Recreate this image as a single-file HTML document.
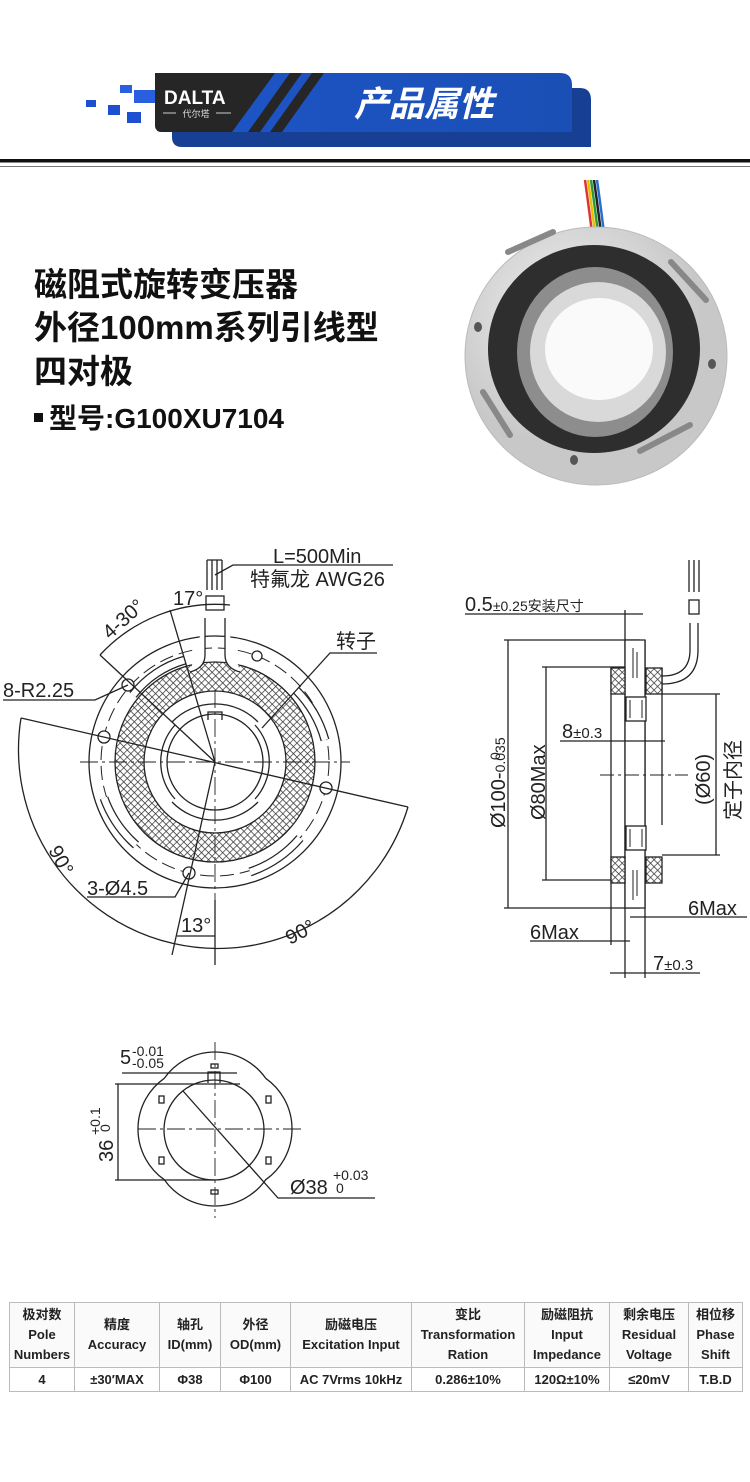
<!DOCTYPE html>
<html><head><meta charset="utf-8"><style>
body{margin:0;background:#fff;}
.w{position:relative;width:750px;height:1482px;overflow:hidden;background:#fff;font-family:"Liberation Sans","Noto Sans CJK SC",sans-serif;}
.t{position:absolute;left:34px;font-weight:bold;font-size:33px;color:#111;line-height:1;}
table{position:absolute;left:9px;top:1302px;border-collapse:collapse;font-family:"Liberation Sans","Noto Sans CJK SC",sans-serif;font-weight:bold;font-size:13px;color:#222;}
td{border:1px solid #bbb;text-align:center;padding:0;line-height:20px;}
tr.h td{height:64px;background:#fafafa;}
tr.d td{height:23px;}
</style></head><body><div class="w">
<svg width="750" height="200" style="position:absolute;left:0;top:0">
<defs><linearGradient id="bg" x1="0" x2="1"><stop offset="0" stop-color="#1e55c8"/><stop offset="1" stop-color="#1a4fb5"/></linearGradient></defs>
<rect x="86" y="100" width="10" height="7" fill="#1d4fd0"/>
<rect x="108" y="105" width="12" height="10" fill="#1d4fd0"/>
<rect x="120" y="85" width="12" height="8" fill="#2a5fe0"/>
<rect x="134" y="90" width="21" height="13" fill="#2a5fe0"/>
<rect x="127" y="112" width="14" height="11" fill="#1d4fd0"/>
<path d="M172 88 H580 Q591 88 591 100 V147 H182 Q172 147 172 137Z" fill="#173f93"/>
<path d="M155 73 H560 Q572 73 572 85 V132 H162 Q155 132 155 125Z" fill="url(#bg)"/>
<path d="M155 73 H275 L232 132 H162 Q155 132 155 125Z" fill="#262626"/>
<path d="M290 73 H302 L260 132 H248Z" fill="#262626"/>
<path d="M312 73 H324 L282 132 H270Z" fill="#262626"/>
<text x="164" y="104" font-family="Liberation Sans" font-weight="bold" font-size="19" fill="#fff">DALTA</text>
<line x1="163" y1="113" x2="176" y2="113" stroke="#ccc"/><line x1="216" y1="113" x2="231" y2="113" stroke="#ccc"/>
<text x="196" y="117" text-anchor="middle" font-size="9" fill="#ddd" font-family="Noto Sans CJK SC,sans-serif">代尔塔</text>
<text x="424" y="116" text-anchor="middle" font-size="35" font-weight="bold" font-style="italic" fill="#fff" font-family="Noto Sans CJK SC,sans-serif">产品属性</text>
<rect x="0" y="159" width="750" height="3.5" fill="#111"/>
<rect x="0" y="166" width="750" height="1" fill="#777"/>
</svg>
<div class="t" style="top:268px">磁阻式旋转变压器</div>
<div class="t" style="top:311px">外径100mm系列引线型</div>
<div class="t" style="top:355px">四对极</div>
<div class="t" style="top:405px;font-size:28px"><span style="display:inline-block;width:9px;height:9px;background:#111;vertical-align:middle;margin-right:6px;position:relative;top:-3px"></span>型号:G100XU7104</div>

<svg width="750" height="1482" style="position:absolute;left:0;top:0" font-family="Liberation Sans,Noto Sans CJK SC,sans-serif">
<defs>
<pattern id="hx" width="5" height="5" patternUnits="userSpaceOnUse" patternTransform="rotate(45)"><rect width="5" height="5" fill="#fff"/><path d="M0 0H5M0 0V5" stroke="#333" stroke-width="1.4"/></pattern>
<radialGradient id="pl" cx="0.4" cy="0.35"><stop offset="0" stop-color="#f2f2f2"/><stop offset="1" stop-color="#c8c8c8"/></radialGradient>
</defs>
<!-- photo -->
<g>
<path d="M585 180 Q590 215 595 258" stroke="#d33" stroke-width="2.5" fill="none"/>
<path d="M588 180 Q593 215 598 258" stroke="#e8c000" stroke-width="2.5" fill="none"/>
<path d="M591 180 Q596 215 601 258" stroke="#2a9a3a" stroke-width="2.5" fill="none"/>
<path d="M594 180 Q599 215 604 258" stroke="#222" stroke-width="2.5" fill="none"/>
<path d="M597 180 Q602 215 607 258" stroke="#2870d0" stroke-width="2.5" fill="none"/>
<ellipse cx="596" cy="356" rx="131" ry="129" fill="url(#pl)" stroke="#bbb"/>
<ellipse cx="594" cy="349" rx="106" ry="104" fill="#2e2e2e"/>
<ellipse cx="595" cy="352" rx="78" ry="85" fill="#8d8d8d"/>
<ellipse cx="598" cy="352" rx="68" ry="70" fill="#d9d9d9"/>
<ellipse cx="599" cy="349" rx="54" ry="51" fill="#fafafa"/>
<ellipse cx="478" cy="327" rx="4" ry="5" fill="#555"/><ellipse cx="712" cy="364" rx="4" ry="5" fill="#555"/><ellipse cx="574" cy="460" rx="4" ry="5" fill="#555"/>
<path d="M508 252 L553 232" stroke="#888" stroke-width="6" stroke-linecap="round"/>
<path d="M671 262 L706 300" stroke="#888" stroke-width="6" stroke-linecap="round"/>
<path d="M483 392 L510 435" stroke="#888" stroke-width="6" stroke-linecap="round"/>
<path d="M640 451 L690 425" stroke="#888" stroke-width="6" stroke-linecap="round"/>
</g>
<!-- front view -->
<g stroke="#222" fill="none" stroke-width="1.3">
<circle cx="215" cy="762" r="126"/>
<circle cx="215" cy="762" r="114" stroke-dasharray="14 6" stroke-width="1"/>
<path d="M215 762 m-100 0 a100 100 0 1 0 200 0 a100 100 0 1 0 -200 0 M215 762 m-71 0 a71 71 0 1 1 142 0 a71 71 0 1 1 -142 0" fill="url(#hx)" fill-rule="evenodd"/>
<circle cx="215" cy="762" r="48"/>
<path d="M172 722 A60 60 0 0 1 258 722 M172 802 A60 60 0 0 0 258 802 M175 725 A55 55 0 0 0 175 799 M255 725 A55 55 0 0 1 255 799"/>
<path d="M208 720 v-8 h14 v8"/>
<path d="M133 695 A100 100 0 0 1 185 660" stroke-width="9" stroke="#222"/><path d="M133 695 A100 100 0 0 1 185 660" stroke-width="6.5" stroke="#fff"/>
<path d="M296 690 A115 115 0 0 1 325 740" stroke-width="9"/><path d="M296 690 A115 115 0 0 1 325 740" stroke-width="6.5" stroke="#fff"/>
<path d="M104 798 A115 115 0 0 0 136 845" stroke-width="9"/><path d="M104 798 A115 115 0 0 0 136 845" stroke-width="6.5" stroke="#fff"/>
<path d="M250 872 A115 115 0 0 0 300 838" stroke-width="9"/><path d="M250 872 A115 115 0 0 0 300 838" stroke-width="6.5" stroke="#fff"/>
<circle cx="128" cy="685" r="6" fill="#fff"/><circle cx="104" cy="737" r="6" fill="#fff"/><circle cx="326" cy="788" r="6" fill="#fff"/><circle cx="189" cy="873" r="6" fill="#fff"/><circle cx="257" cy="656" r="5" fill="#fff"/>
<path d="M205 618 V655 Q205 668 190 672 M225 618 V655 Q225 668 240 672" fill="#fff"/>
<rect x="206" y="596" width="18" height="14" fill="#fff"/>
<path d="M207 560 v30 M212 560 v30 M217 560 v30 M222 560 v30 M207 560 h15"/>
<path d="M80 762 H350 M215 690 V960" stroke-dasharray="18 4 3 4" stroke-width="0.9"/>
<path d="M21 718 L408 807 M215 762 L172 955 M215 762 L170 610 M215 762 L100 655"/>
<path d="M21 718 A199 199 0 0 0 408 807"/>
<path d="M100 655 A157 157 0 0 1 230 605"/>
<path d="M177 936 H215 M215 900 V965"/>
<path d="M3 700 H95 L128 685"/>
<path d="M87 897 H175 L189 873"/>
<path d="M377 653 H330 L262 728"/>
<path d="M215 575 L233 565 H393"/>
</g>
<g font-size="20" fill="#222">
<text x="273" y="563">L=500Min</text>
<text x="250" y="586">特氟龙 AWG26</text>
<text x="173" y="605">17°</text>
<text x="3" y="697">8-R2.25</text>
<text x="336" y="648">转子</text>
<text x="87" y="895">3-Ø4.5</text>
<text x="181" y="932">13°</text>
<text transform="translate(110,640) rotate(-42)">4-30°</text>
<text transform="translate(48,850) rotate(62)">90°</text>
<text transform="translate(290,945) rotate(-28)">90°</text>
</g>
<!-- side view -->
<g stroke="#222" fill="none" stroke-width="1.3">
<path d="M465 614 H643 M625 610 V978 M645 640 V978 M611 668 V945 M662 668 V825"/>
<path d="M508 640 V908 M504 640 H640 M504 908 H640 M546 667 V880 M542 667 H625 M542 880 H625"/>
<path d="M625 640 H645 V908 H625Z" fill="#fff"/>
<rect x="611" y="668" width="14" height="26" fill="url(#hx)"/><rect x="646" y="668" width="16" height="26" fill="url(#hx)"/>
<rect x="611" y="857" width="14" height="26" fill="url(#hx)"/><rect x="646" y="857" width="16" height="26" fill="url(#hx)"/>
<rect x="626" y="697" width="20" height="24" fill="#fff"/><rect x="626" y="826" width="20" height="24" fill="#fff"/>
<path d="M630 700 v18 M642 700 v18 M630 829 v18 M642 829 v18 M633 648 v30 M637 652 v26 M633 870 v30 M637 870 v26" stroke-width="1"/>
<path d="M662 694 H720 M662 855 H720 M716 694 V855"/>
<path d="M560 741 H665 M630 917 H747 M530 941 H630 M610 973 H700"/>
<path d="M600 775 H688" stroke-dasharray="14 4 3 4" stroke-width="0.9"/>
<path d="M662 676 Q690 676 690 650 V623 M662 684 Q698 684 698 650 V623"/>
<rect x="689" y="600" width="10" height="14"/>
<path d="M689 560 v32 M694 560 v32 M699 560 v32"/>
</g>
<g font-size="20" fill="#222">
<text x="465" y="611">0.5<tspan font-size="14">±0.25安装尺寸</tspan></text>
<text x="562" y="738">8<tspan font-size="15">±0.3</tspan></text>
<text x="688" y="915">6Max</text>
<text x="530" y="939">6Max</text>
<text x="653" y="970">7<tspan font-size="15">±0.3</tspan></text>
<text transform="translate(505,828) rotate(-90)">Ø100-<tspan font-size="14">0.035</tspan></text>
<text transform="translate(500,760) rotate(-90)" font-size="14">0</text>
<text transform="translate(545,820) rotate(-90)">Ø80Max</text>
<text transform="translate(710,805) rotate(-90)">(Ø60)</text>
<text transform="translate(740,820) rotate(-90)">定子内径</text>
</g>
<!-- lower view -->
<g stroke="#222" fill="none" stroke-width="1.3">
<path d="M265.7 1078.3 A62 62 0 0 1 265.7 1179.7 A62 62 0 0 1 164.3 1179.7 A62 62 0 0 1 164.3 1078.3 A62 62 0 0 1 265.7 1078.3Z"/>
<circle cx="214" cy="1130" r="50"/>
<path d="M208 1083 v-11 h12 v11"/>
<path d="M138 1129 H302 M215 1042 V1218" stroke-dasharray="18 4 3 4" stroke-width="0.9"/>
<path d="M122 1073 H237 M115 1084 H240 M115 1180 H215 M118 1084 V1180"/>
<path d="M183 1091 L278 1198 H375"/>
<rect x="159" y="1096" width="5" height="7"/><rect x="266" y="1096" width="5" height="7"/><rect x="159" y="1157" width="5" height="7"/><rect x="266" y="1157" width="5" height="7"/><rect x="211" y="1064" width="7" height="4"/><rect x="211" y="1190" width="7" height="4"/>
</g>
<g font-size="20" fill="#222">
<text x="120" y="1064">5</text>
<text x="132" y="1056" font-size="14">-0.01</text><text x="132" y="1068" font-size="14">-0.05</text>
<text x="290" y="1194">Ø38</text>
<text x="333" y="1180" font-size="14">+0.03</text><text x="336" y="1193" font-size="14">0</text>
<text transform="translate(113,1162) rotate(-90)">36</text>
<text transform="translate(100,1135) rotate(-90)" font-size="14">+0.1</text>
<text transform="translate(110,1132) rotate(-90)" font-size="14">0</text>
</g>
</svg>
<table>
<tr class="h"><td style="width:64px">极对数<br>Pole<br>Numbers</td><td style="width:84px">精度<br>Accuracy</td><td style="width:60px">轴孔<br>ID(mm)</td><td style="width:69px">外径<br>OD(mm)</td><td style="width:120px">励磁电压<br>Excitation Input</td><td style="width:112px">变比<br>Transformation<br>Ration</td><td style="width:84px">励磁阻抗<br>Input<br>Impedance</td><td style="width:78px">剩余电压<br>Residual<br>Voltage</td><td style="width:53px">相位移<br>Phase<br>Shift</td></tr>
<tr class="d"><td>4</td><td>±30′MAX</td><td>Φ38</td><td>Φ100</td><td>AC 7Vrms 10kHz</td><td>0.286±10%</td><td>120Ω±10%</td><td>≤20mV</td><td>T.B.D</td></tr>
</table>
</div></body></html>
